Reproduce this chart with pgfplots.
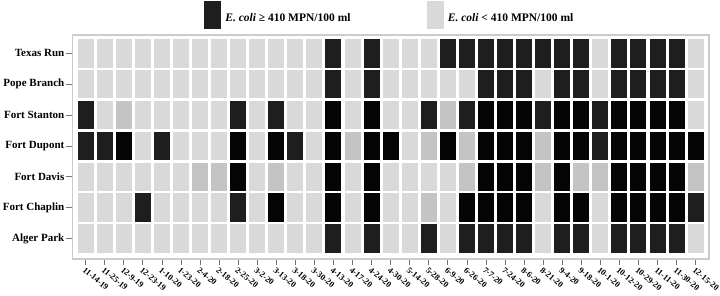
\documentclass[border=0pt]{standalone}
\usepackage{fontspec}
\setmainfont{Liberation Serif}
\usepackage{pgfplots}
\usepackage{pgfplotstable}
\pgfplotsset{compat=1.18}
\definecolor{cLight}{HTML}{D9D9D9}
\definecolor{cMid}{HTML}{C4C4C4}
\definecolor{cDark}{HTML}{1E1E1E}
\definecolor{cBlack}{HTML}{040404}
\pgfdeclareplotmark{cell}{\pgfpathrectangle{\pgfpoint{-8pt}{-14.3pt}}{\pgfpoint{16pt}{28.6pt}}\pgfusepathqfill}
% x = sampling date index, y = site index, c = level (0 light, 1 mid, 2 dark, 3 black)
\pgfplotstableread[row sep=\\]{
x y c\\
0 0 0\\1 0 0\\2 0 0\\3 0 0\\4 0 0\\5 0 0\\6 0 0\\7 0 0\\8 0 0\\9 0 0\\10 0 0\\11 0 0\\12 0 0\\13 0 2\\14 0 0\\15 0 2\\16 0 0\\17 0 0\\18 0 0\\19 0 2\\20 0 2\\21 0 2\\22 0 2\\23 0 2\\24 0 2\\25 0 2\\26 0 2\\27 0 0\\28 0 2\\29 0 2\\30 0 2\\31 0 2\\32 0 0\\
0 1 0\\1 1 0\\2 1 0\\3 1 0\\4 1 0\\5 1 0\\6 1 0\\7 1 0\\8 1 0\\9 1 0\\10 1 0\\11 1 0\\12 1 0\\13 1 2\\14 1 0\\15 1 2\\16 1 0\\17 1 0\\18 1 0\\19 1 0\\20 1 0\\21 1 2\\22 1 2\\23 1 2\\24 1 0\\25 1 2\\26 1 2\\27 1 0\\28 1 2\\29 1 2\\30 1 2\\31 1 2\\32 1 0\\
0 2 2\\1 2 0\\2 2 1\\3 2 0\\4 2 0\\5 2 0\\6 2 0\\7 2 0\\8 2 2\\9 2 0\\10 2 2\\11 2 0\\12 2 0\\13 2 3\\14 2 0\\15 2 3\\16 2 0\\17 2 0\\18 2 2\\19 2 1\\20 2 2\\21 2 3\\22 2 3\\23 2 3\\24 2 2\\25 2 3\\26 2 3\\27 2 2\\28 2 3\\29 2 3\\30 2 3\\31 2 3\\32 2 0\\
0 3 2\\1 3 2\\2 3 3\\3 3 0\\4 3 2\\5 3 0\\6 3 0\\7 3 0\\8 3 3\\9 3 0\\10 3 3\\11 3 2\\12 3 0\\13 3 3\\14 3 1\\15 3 3\\16 3 3\\17 3 0\\18 3 1\\19 3 3\\20 3 1\\21 3 3\\22 3 3\\23 3 3\\24 3 1\\25 3 3\\26 3 3\\27 3 2\\28 3 3\\29 3 3\\30 3 3\\31 3 3\\32 3 3\\
0 4 0\\1 4 0\\2 4 0\\3 4 0\\4 4 0\\5 4 0\\6 4 1\\7 4 1\\8 4 3\\9 4 0\\10 4 1\\11 4 0\\12 4 0\\13 4 3\\14 4 0\\15 4 3\\16 4 0\\17 4 0\\18 4 0\\19 4 0\\20 4 1\\21 4 3\\22 4 3\\23 4 3\\24 4 1\\25 4 3\\26 4 1\\27 4 1\\28 4 3\\29 4 3\\30 4 3\\31 4 3\\32 4 1\\
0 5 0\\1 5 0\\2 5 0\\3 5 2\\4 5 0\\5 5 0\\6 5 0\\7 5 0\\8 5 2\\9 5 0\\10 5 3\\11 5 0\\12 5 0\\13 5 3\\14 5 0\\15 5 3\\16 5 0\\17 5 0\\18 5 1\\19 5 0\\20 5 3\\21 5 3\\22 5 3\\23 5 3\\24 5 0\\25 5 3\\26 5 3\\27 5 0\\28 5 3\\29 5 3\\30 5 3\\31 5 3\\32 5 2\\
0 6 0\\1 6 0\\2 6 0\\3 6 0\\4 6 0\\5 6 0\\6 6 0\\7 6 0\\8 6 0\\9 6 0\\10 6 0\\11 6 0\\12 6 0\\13 6 2\\14 6 0\\15 6 2\\16 6 0\\17 6 0\\18 6 2\\19 6 0\\20 6 2\\21 6 2\\22 6 2\\23 6 2\\24 6 0\\25 6 2\\26 6 2\\27 6 0\\28 6 2\\29 6 2\\30 6 2\\31 6 2\\32 6 0\\
}\cells
\begin{document}
\begin{tikzpicture}
\path[use as bounding box] (0,0) rectangle (720pt,296pt);
\begin{axis}[
  at={(72.5pt,37pt)}, anchor=south west,
  scale only axis, width=636.5pt, height=224pt,
  xmin=-0.69, xmax=32.70, ymin=-0.59, ymax=6.66,
  y dir=reverse,
  xtick={0,...,32},
  xticklabels={11-14-19,11-25-19,12-9-19,12-23-19,1-10-20,1-23-20,2-4-20,2-18-20,2-25-20,3-2-20,3-13-20,3-18-20,3-30-20,4-13-20,4-17-20,4-24-20,4-30-20,5-14-20,5-28-20,6-9-20,6-26-20,7-7-20,7-24-20,8-6-20,8-21-20,9-4-20,9-18-20,10-1-20,10-12-20,10-29-20,11-11-20,11-30-20,12-15-20},
  ytick={0,...,6},
  yticklabels={Texas Run,Pope Branch,Fort Stanton,Fort Dupont,Fort Davis,Fort Chaplin,Alger Park},
  tick pos=left, tick align=outside, major tick length=6pt,
  axis line style={draw=black!20, line width=1.2pt},
  tick style={draw=black!55, line width=0.7pt},
  xticklabel style={font=\fontsize{8.5}{10}\selectfont\bfseries, rotate=-40, anchor=north west, inner sep=1pt},
  yticklabel style={font=\fontsize{11}{13}\selectfont\bfseries, inner sep=1pt, xshift=-1pt},
  legend columns=2,
  legend style={at={(0.2066,1.1518)}, anchor=north west, draw=none, fill=none,
    inner sep=0pt, outer sep=0pt, nodes={inner sep=0pt},
    font=\fontsize{11.5}{13}\selectfont\bfseries,
    /tikz/every odd column/.append style={column sep=5pt},
    /tikz/every even column/.append style={column sep=76pt}},
]
\addplot[scatter, only marks, forget plot, scatter src=explicit symbolic,
  scatter/classes={0={mark=cell, fill=cLight}, 1={mark=cell, fill=cMid}, 2={mark=cell, fill=cDark}, 3={mark=cell, fill=cBlack}}]
  table[x=x, y=y, meta=c] {\cells};
\addlegendimage{legend image code/.code={\fill[cDark] (0pt,-9.5pt) rectangle (16pt,17.5pt);}}
\addlegendentry{\textit{E. coli} ≥ 410 MPN/100 ml}
\addlegendimage{legend image code/.code={\fill[cLight] (0pt,-9.5pt) rectangle (16pt,17.5pt);}}
\addlegendentry{\textit{E. coli} < 410 MPN/100 ml}
\end{axis}
\end{tikzpicture}
\end{document}
